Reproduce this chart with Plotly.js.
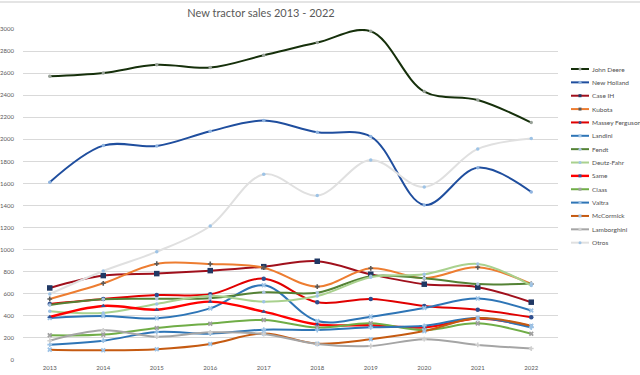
<!DOCTYPE html>
<html>
<head>
<meta charset="utf-8">
<script src="https://cdn.plot.ly/plotly-3.0.1.min.js"></script>
<style>html,body{margin:0;padding:0;background:#fff;}#chart{width:640px;height:375px;}</style>
</head>
<body>
<div id="chart"></div>
<script>
const years = ['2013','2014','2015','2016','2017','2018','2019','2020','2021','2022'];
const seriesNames = ['John Deere','New Holland','Case IH','Kubota','Massey Ferguson','Landini','Fendt','Deutz-Fahr','Same','Claas','Valtra','McCormick','Lamborghini','Otros'];

const johnDeere   = [2572, 2602, 2675, 2650, 2762, 2877, 2980, 2433, 2357, 2152];
const newHolland  = [1611, 1943, 1940, 2073, 2170, 2064, 2025, 1405, 1743, 1523];
const caseIH      = [653, 765, 783, 810, 846, 895, 777, 687, 660, 524];
const kubota      = [553, 695, 873, 870, 837, 665, 831, 742, 840, 689];
const masseyFerguson = [508, 553, 589, 595, 737, 523, 553, 490, 455, 388];
const landini     = [381, 399, 378, 468, 677, 354, 393, 472, 557, 448];
const fendt       = [499, 550, 555, 560, 614, 610, 760, 740, 688, 693];
const deutzFahr   = [441, 426, 508, 583, 529, 580, 750, 777, 870, 675];
const same        = [390, 490, 456, 529, 438, 322, 315, 296, 375, 305];
const claas       = [224, 230, 290, 329, 363, 295, 332, 272, 332, 238];
const valtra      = [139, 175, 254, 239, 275, 272, 296, 310, 380, 294];
const mcCormick   = [94, 88, 97, 145, 240, 148, 188, 262, 380, 310];
const lamborghini = [175, 269, 211, 251, 235, 145, 127, 189, 137, 104];
const otros       = [598, 807, 982, 1215, 1683, 1490, 1813, 1568, 1913, 2007];

const seriesValues = [johnDeere, newHolland, caseIH, kubota, masseyFerguson, landini, fendt, deutzFahr, same, claas, valtra, mcCormick, lamborghini, otros];

// styles
const styles = [
  {c:'#16300b', w:2, m:'circle', mc:'#9aa39a', ms:3.5},
  {c:'#1f4e9e', w:2, m:'circle', mc:'#8fb4e0', ms:3.5},
  {c:'#a0101c', w:2, m:'square', mc:'#203864', ms:5.5},
  {c:'#ed7d31', w:2, m:'cross', mc:'#5a5a5a', ms:4},
  {c:'#e00000', w:2, m:'circle', mc:'#2f4f8f', ms:4.5},
  {c:'#2e75b6', w:2, m:'x', mc:'#9dc3e6', ms:4.5},
  {c:'#548235', w:2, m:'circle', mc:'#a9c4e0', ms:3.5},
  {c:'#a9d18e', w:2, m:'circle', mc:'#9dc3e6', ms:3.5},
  {c:'#ff0000', w:2.4, m:'triangle-up', mc:'#2f5597', ms:4.5},
  {c:'#70ad47', w:2, m:'x', mc:'#a0a0a0', ms:4.5},
  {c:'#2e75b6', w:2, m:'cross', mc:'#9dc3e6', ms:4},
  {c:'#c55a11', w:2, m:'x', mc:'#9dc3e6', ms:4.5},
  {c:'#a5a5a5', w:2, m:'cross', mc:'#d0d0d0', ms:4},
  {c:'#e0e0e0', w:2, m:'circle', mc:'#9dc3e6', ms:3.5}
];

const traces = seriesNames.map((n, i) => ({
  type: 'scatter', mode: 'lines+markers', name: n,
  x: years, y: seriesValues[i],
  line: {color: styles[i].c, width: styles[i].w, shape: 'spline', smoothing: 1},
  marker: {symbol: styles[i].m, color: styles[i].mc, size: styles[i].ms, line: {width: 0}},
  showlegend: false
}));

// plot area in pixels
const L = 23, R = 558, T = 29, B = 360;
const px2x = p => (p - L) / (R - L);
const px2y = p => (B - p) / (B - T);

const shapes = [
  {type: 'line', xref: 'paper', yref: 'paper', x0: px2x(0), x1: px2x(640), y0: px2y(2), y1: px2y(2),
   line: {color: '#e4e4e4', width: 2}}
];
const annotations = [];
seriesNames.forEach((n, i) => {
  const py = 69 + i * 13.36;
  shapes.push({type: 'line', xref: 'paper', yref: 'paper', x0: px2x(571), x1: px2x(589), y0: px2y(py), y1: px2y(py),
    line: {color: styles[i].c, width: styles[i].w}});
  const cx = px2x(580), cy = px2y(py), dx = 1.5 / (R - L), dy = 1.5 / (B - T);
  shapes.push({type: styles[i].m === 'circle' ? 'circle' : 'rect', xref: 'paper', yref: 'paper',
    x0: cx - dx, x1: cx + dx, y0: cy - dy, y1: cy + dy, fillcolor: styles[i].mc, line: {width: 0}});
  annotations.push({xref: 'paper', yref: 'paper', x: px2x(590), y: px2y(py), xanchor: 'left', yanchor: 'middle',
    text: n, showarrow: false, font: {family: 'Lato, "Open Sans", sans-serif', size: 6.5, color: '#505050'}});
});

const layout = {
  width: 640, height: 375,
  margin: {l: L, r: 640 - R, t: T, b: 375 - B, pad: 0},
  paper_bgcolor: '#ffffff', plot_bgcolor: '#ffffff',
  title: {text: 'New tractor sales 2013 - 2022', x: 261 / 640, xref: 'container', xanchor: 'center',
    y: 1 - 13 / 375, yref: 'container', yanchor: 'middle',
    font: {family: 'Lato, "Open Sans", sans-serif', size: 11, color: '#595959'}},
  xaxis: {type: 'category', range: [-0.5, 9.5], showgrid: false, zeroline: false, showline: false, ticks: '',
    tickfont: {family: 'Lato, "Open Sans", sans-serif', size: 6, color: '#595959'}, ticklabelstandoff: 3},
  yaxis: {range: [0, 3000], dtick: 200, tickformat: 'd', showgrid: true, gridcolor: '#d9d9d9', gridwidth: 1,
    zeroline: false, showline: false, ticks: '',
    tickfont: {family: 'Lato, "Open Sans", sans-serif', size: 6, color: '#595959'}, ticklabelstandoff: 8},
  shapes: shapes, annotations: annotations,
  showlegend: false
};

Plotly.newPlot('chart', traces, layout, {displayModeBar: false, staticPlot: true});
</script>
</body>
</html>
